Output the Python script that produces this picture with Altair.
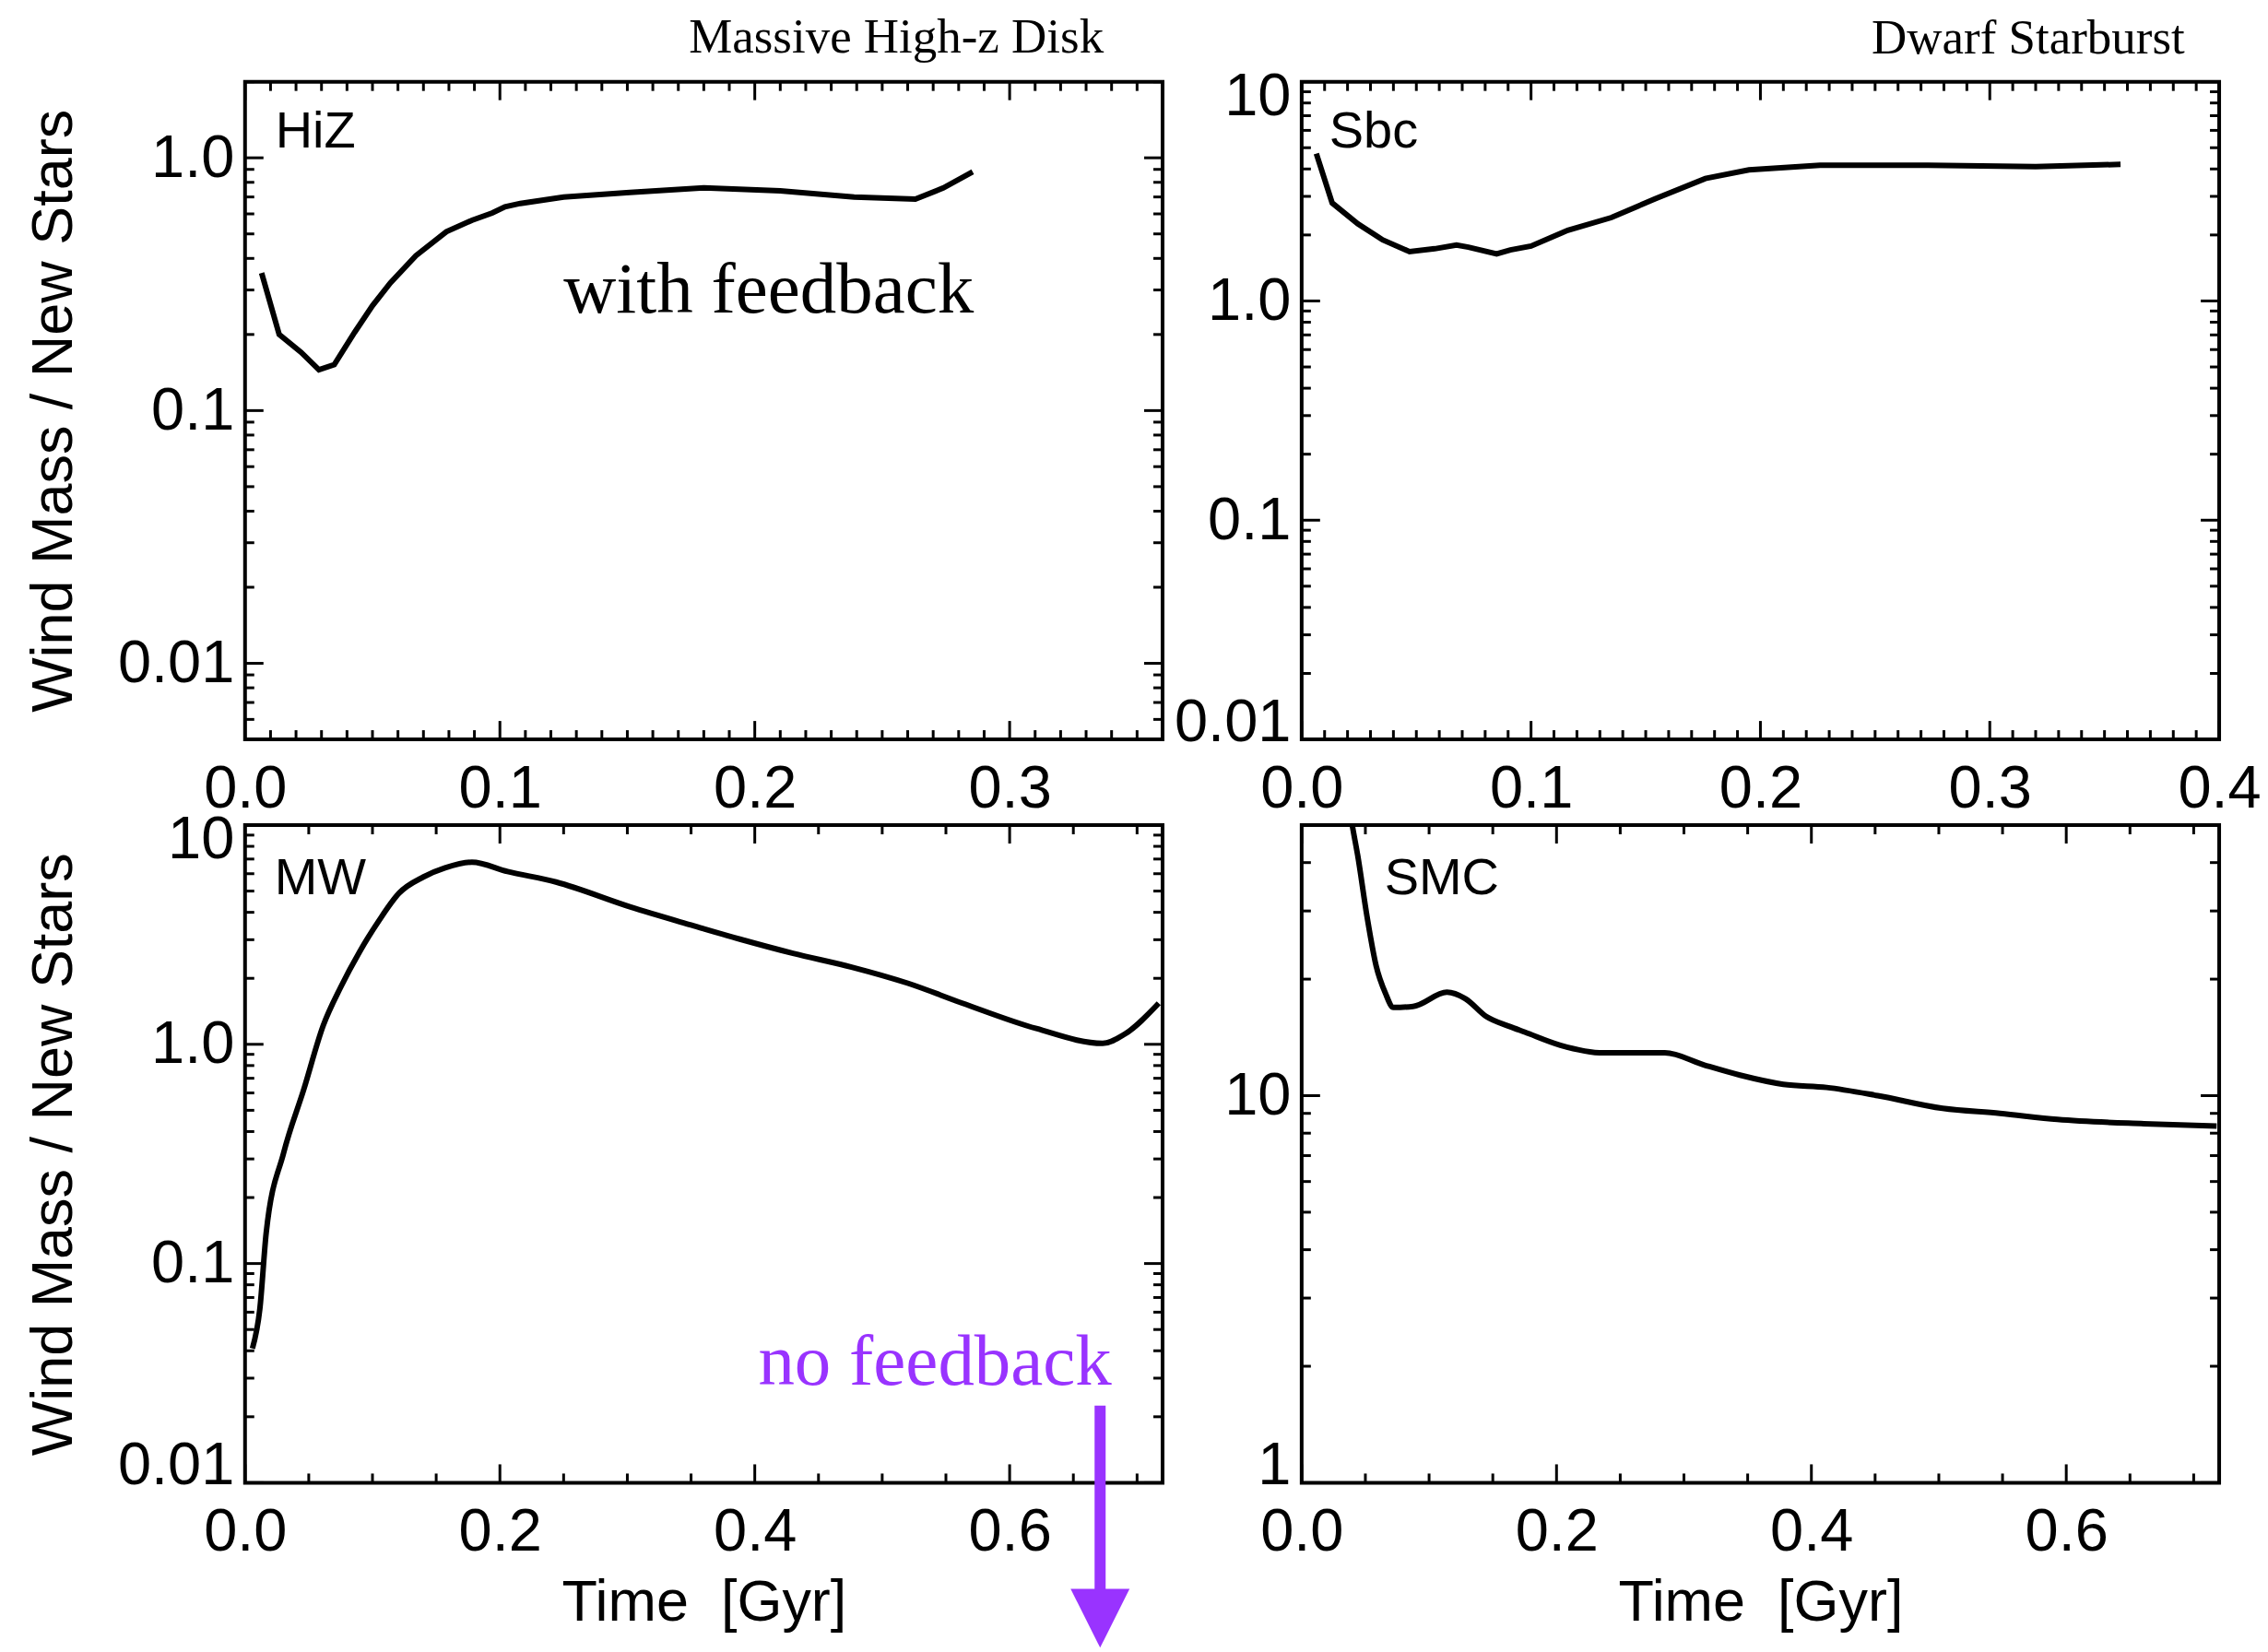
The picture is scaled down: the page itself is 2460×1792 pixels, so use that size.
import altair as alt
import pandas as pd

SANS = "Liberation Sans"
SERIF = "Liberation Serif"
PURPLE = "#9933ff"

# ---------------- data ----------------
hiz_t = [0.0065, 0.0134, 0.022, 0.029, 0.035, 0.043, 0.050, 0.057, 0.067, 0.079, 0.089,
         0.097, 0.102, 0.108, 0.125, 0.151, 0.180, 0.210, 0.239, 0.263, 0.274, 0.2855]
hiz_r = [0.35, 0.20, 0.17, 0.145, 0.152, 0.204, 0.26, 0.32, 0.41, 0.51, 0.566,
         0.605, 0.64, 0.66, 0.70, 0.73, 0.76, 0.74, 0.70, 0.686, 0.76, 0.88]

sbc_t = [0.0064, 0.0133, 0.0245, 0.0353, 0.047, 0.058, 0.0675, 0.0727, 0.085, 0.091,
         0.100, 0.116, 0.135, 0.154, 0.176, 0.195, 0.226, 0.273, 0.320, 0.357]
sbc_r = [4.7, 2.8, 2.25, 1.9, 1.68, 1.73, 1.80, 1.76, 1.64, 1.71,
         1.78, 2.1, 2.4, 2.92, 3.62, 3.96, 4.16, 4.16, 4.1, 4.2]

mw_t = [0.0058, 0.0116, 0.0166, 0.0303, 0.046, 0.0614, 0.075, 0.090, 0.105, 0.121, 0.140,
        0.157, 0.178, 0.206, 0.244, 0.302, 0.350, 0.389, 0.430, 0.476, 0.520, 0.563,
        0.621, 0.673, 0.690, 0.717]
mw_r = [0.041, 0.062, 0.138, 0.32, 0.62, 1.22, 1.82, 2.65, 3.66, 4.9, 5.8,
        6.38, 6.77, 6.14, 5.5, 4.24, 3.5, 3.01, 2.6, 2.25, 1.9, 1.54,
        1.18, 1.01, 1.11, 1.54]

smc_t = [0.036, 0.0397, 0.044, 0.0513, 0.0585, 0.0657, 0.072, 0.0874, 0.114, 0.1285, 0.145,
         0.163, 0.175, 0.203, 0.237, 0.285, 0.316, 0.344, 0.378, 0.412, 0.452, 0.503,
         0.548, 0.593, 0.661, 0.718]
smc_r = [60, 50, 41.7, 29.0, 21.6, 18.4, 16.9, 17.0, 18.5, 17.8, 16.0,
         15.1, 14.6, 13.5, 12.9, 12.9, 12.0, 11.3, 10.7, 10.5, 10.0, 9.27,
         9.0, 8.68, 8.46, 8.35]

panel_names = ["HiZ", "Sbc", "MW", "SMC"]
y_title = "Wind Mass / New Stars"
x_title = "Time\u00a0 [Gyr]"

W, H = 996, 714
TICK_MAJ, TICK_MIN = 20, 10
LABEL_SIZE = 65


def log_ticks(lo, hi):
    major, minor = [], []
    for e in range(-4, 3):
        for m in range(1, 10):
            v = round(m * 10.0 ** e, 10)
            if lo * 0.999 <= v <= hi * 1.001:
                (major if m == 1 else minor).append(v)
    return major, minor


def lin_ticks(hi, step_major, step_minor):
    n = int(round(hi / step_minor))
    vals = [round(i * step_minor, 6) for i in range(n + 1)]
    major = [v for v in vals if abs(v / step_major - round(v / step_major)) < 1e-6]
    minor = [v for v in vals if v not in major]
    return major, minor


def panel(t, r, xmax, xstep, xminor_step, ydom, ylabel_expr, interp,
          ytitle, xtitle, texts, arrow=None):
    xs = alt.Scale(domain=[0, xmax], nice=False, zero=False)
    ys = alt.Scale(type="log", domain=ydom, nice=False)
    xmaj, xmin = lin_ticks(xmax, xstep, xminor_step)
    ymaj, ymin = log_ticks(*ydom)

    xaxis = alt.Axis(values=xmaj, format=".1f", ticks=False, tickSize=0, domain=False,
                     grid=False, labelFont=SANS, labelFontSize=LABEL_SIZE, labelPadding=22,
                     labelColor="black", labelFlush=False,
                     title=xtitle if xtitle else "", titleFont=SANS, titleFontSize=63,
                     titleFontWeight="normal", titleColor="black", titlePadding=13)
    yaxis = alt.Axis(values=ymaj, labelExpr=ylabel_expr, ticks=False, tickSize=0,
                     domain=False, grid=False, labelFont=SANS, labelFontSize=LABEL_SIZE,
                     labelPadding=12, labelColor="black", labelFlush=True,
                     labelFlushOffset=15, labelOverlap=False,
                     title=ytitle if ytitle else "", titleFont=SANS, titleFontSize=63,
                     titleFontWeight="normal", titleColor="black", titlePadding=37)

    def X(f):
        return alt.X(f, scale=xs, axis=xaxis)

    def Y(f):
        return alt.Y(f, scale=ys, axis=yaxis)

    df = pd.DataFrame({"t": t, "r": r})
    layers = [alt.Chart(df).mark_line(color="black", strokeWidth=6, clip=True,
                                      interpolate=interp).encode(
        x=X("t:Q"), y=Y("r:Q"))]

    def yrules(vals, length):
        d = pd.DataFrame({"v": vals})
        base = alt.Chart(d).mark_rule(color="black", strokeWidth=3)
        return [base.encode(y=Y("v:Q"), x=alt.value(0), x2=alt.value(length)),
                base.encode(y=Y("v:Q"), x=alt.value(W - length), x2=alt.value(W))]

    def xrules(vals, length):
        d = pd.DataFrame({"v": vals})
        base = alt.Chart(d).mark_rule(color="black", strokeWidth=3)
        return [base.encode(x=X("v:Q"), y=alt.value(H), y2=alt.value(H - length)),
                base.encode(x=X("v:Q"), y=alt.value(0), y2=alt.value(length))]

    layers += yrules(ymaj, TICK_MAJ) + yrules(ymin, TICK_MIN)
    layers += xrules(xmaj, TICK_MAJ) + xrules(xmin, TICK_MIN)

    for (tx, ty, txt, font, size, color, align) in texts:
        d = pd.DataFrame({"x": [tx], "y": [ty], "s": [txt]})
        layers.append(alt.Chart(d).mark_text(font=font, fontSize=size, color=color,
                                             align=align, baseline="alphabetic").encode(
            x=X("x:Q"), y=Y("y:Q"), text="s:N"))

    if arrow is not None:
        ax, ytop, ybot, yhead = arrow
        d = pd.DataFrame({"x": [ax], "y": [ytop], "y2": [ybot]})
        layers.append(alt.Chart(d).mark_rule(color=PURPLE, strokeWidth=12,
                                             strokeCap="butt").encode(
            x=X("x:Q"), y=Y("y:Q"), y2="y2:Q"))
        d2 = pd.DataFrame({"x": [ax], "y": [yhead]})
        layers.append(alt.Chart(d2).mark_point(shape="M-1,-1L1,-1L0,1Z", size=4096,
                                               filled=True, color=PURPLE, opacity=1,
                                               strokeWidth=0).encode(
            x=X("x:Q"), y=Y("y:Q")))

    return alt.layer(*layers).properties(width=W, height=H)


lab4 = ("datum.value >= 9 ? '10' : datum.value >= 0.9 ? '1.0' : "
        "datum.value >= 0.09 ? '0.1' : '0.01'")
lab2 = "datum.value >= 9 ? '10' : '1'"

tl = panel(hiz_t, hiz_r, 0.36, 0.1, 0.01, [0.005, 2.0], lab4, "linear", y_title, None,
           [(0.0119, 1.10, panel_names[0], SANS, 56, "black", "left"),
            (0.125, 0.245, "with feedback", SERIF, 79, "black", "left"),
            (0.3369, 2.6, "Massive High-z Disk", SERIF, 53, "black", "right")])
tr = panel(sbc_t, sbc_r, 0.4, 0.1, 0.01, [0.01, 10.0], lab4, "linear", None, None,
           [(0.012, 5.0, panel_names[1], SANS, 56, "black", "left"),
            (0.385, 13.5, "Dwarf Starburst", SERIF, 53, "black", "right")])
bl = panel(mw_t, mw_r, 0.72, 0.2, 0.05, [0.01, 10.0], lab4, "monotone", y_title, x_title,
           [(0.0231, 4.85, panel_names[2], SANS, 56, "black", "left"),
            (0.4027, 0.0281, "no feedback", SERIF, 79, PURPLE, "left")],
           arrow=(0.671, 0.0225, 0.0030, 0.00241))
br = panel(smc_t, smc_r, 0.72, 0.2, 0.05, [1.0, 50.0], lab2, "monotone", None, x_title,
           [(0.065, 33.2, panel_names[3], SANS, 56, "black", "left")])

chart = alt.ConcatChart(concat=[tl, tr, bl, br], columns=2,
                        spacing={"row": 93, "column": 151}, bounds="flush").properties(
    padding={"left": 25, "top": 12, "right": 5, "bottom": 0},
    background="white",
).configure_view(stroke="black", strokeWidth=4)

chart.save("out.html", embed_options={"renderer": "svg", "actions": False})
